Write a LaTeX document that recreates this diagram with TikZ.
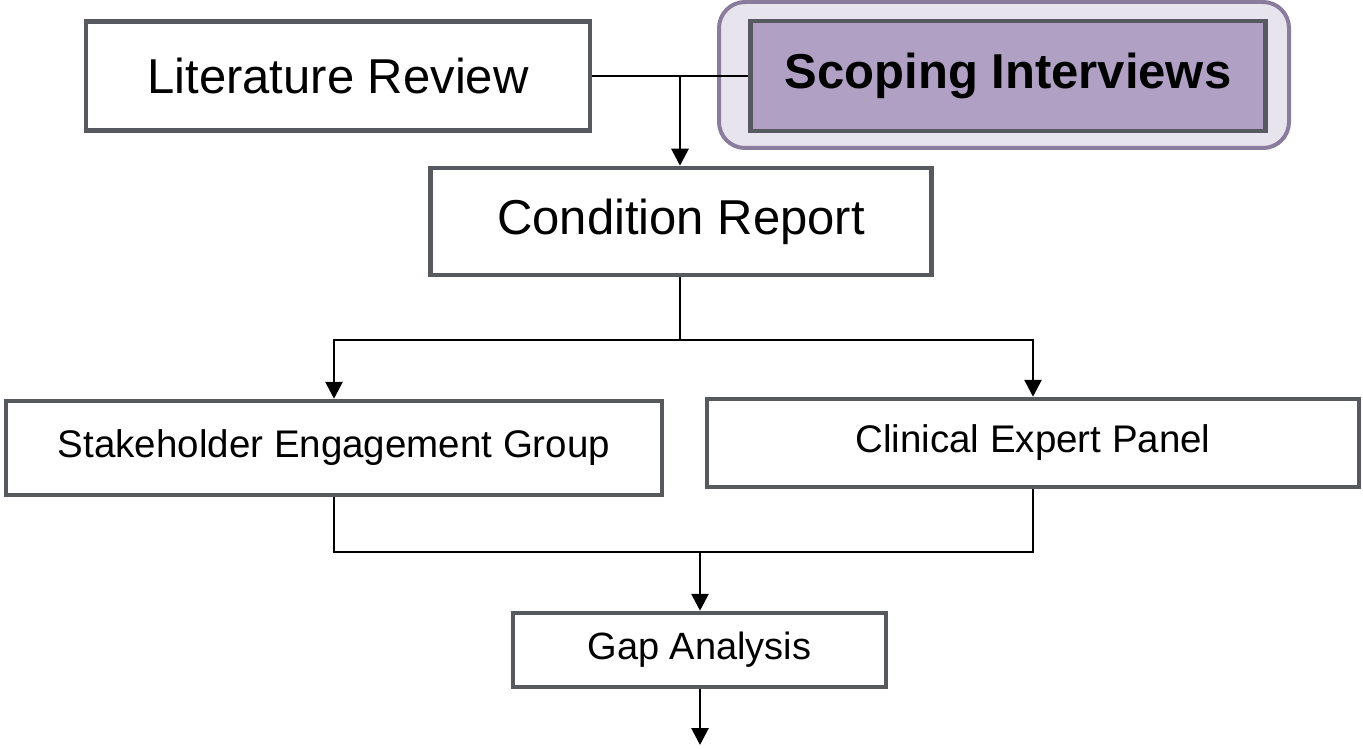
\documentclass[tikz,border=0pt]{standalone}
\usepackage{fontspec}
\setmainfont{Liberation Sans}
\usetikzlibrary{arrows.meta}
\definecolor{boxline}{HTML}{565A5E}
\definecolor{scopefill}{HTML}{B0A0C4}
\definecolor{haloFill}{HTML}{E8E4EE}
\definecolor{haloLine}{HTML}{8A7C9C}
\tikzset{
  stagebox/.style={draw=boxline, line width=4.5pt, fill=white, rectangle, inner sep=0pt, align=center, text=black},
  conn/.style={line width=2.8pt, black},
  arr/.style={conn, -{Triangle[length=17pt,width=17pt]}},
}
\begin{document}
\begin{tikzpicture}[x=1pt,y=-1pt]
\useasboundingbox (0,0) rectangle (1363,749);
% halo around Scoping Interviews
\node[draw=haloLine, fill=haloFill, line width=4pt, rounded corners=26pt, minimum width=570pt, minimum height=146pt, inner sep=0pt] (halo) at (1004,75) {};
\node[stagebox, minimum width=504pt, minimum height=109pt, font=\fontsize{49}{55}\selectfont] (lit) at (338,76) {Literature Review};
\node[stagebox, fill=scopefill, minimum width=515pt, minimum height=110pt, font=\fontsize{49}{55}\selectfont\bfseries] (scope) at (1008,76) {Scoping Interviews};
\node[stagebox, minimum width=501pt, minimum height=107pt, font=\fontsize{49}{55}\selectfont] (cond) at (681,221.5) {Condition Report};
\node[stagebox, minimum width=656pt, minimum height=94pt, font=\fontsize{38.5}{44}\selectfont] (stake) at (334,448) {Stakeholder Engagement Group};
\node[stagebox, minimum width=652pt, minimum height=88pt, font=\fontsize{38.5}{44}\selectfont] (clin) at (1033,443) {Clinical Expert Panel};
\node[stagebox, minimum width=373pt, minimum height=74pt, font=\fontsize{38}{44}\selectfont] (gap) at (699.5,650) {Gap Analysis};
% connectors
\coordinate (j1) at (680,76);
\coordinate (j2) at (680,340);
\coordinate (j3) at (700,552);
\coordinate (end) at (700,745);
\draw[conn] (lit.east) -- (scope.west);
\draw[arr] (j1) -- (j1 |- cond.north);
\draw[conn] (j2 |- cond.south) -- (j2);
\draw[arr] (j2) -| (stake.north);
\draw[arr] (j2) -| (clin.north);
\draw[conn] (stake.south) |- (j3) -| (clin.south);
\draw[arr] (j3) -- (j3 |- gap.north);
\draw[arr] (j3 |- gap.south) -- (end);
\end{tikzpicture}
\end{document}
